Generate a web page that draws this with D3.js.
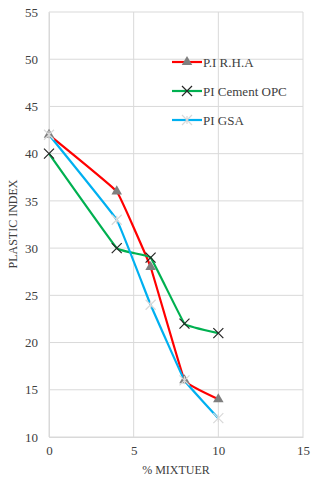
<!DOCTYPE html>
<html>
<head>
<meta charset="utf-8">
<script src="https://cdn.jsdelivr.net/npm/d3@7"></script>
<style>
body { margin: 0; background: #fff; }
text { font-family: "Liberation Serif", "Times New Roman", serif; fill: #404040; }
</style>
</head>
<body>
<script>
var mixture = [0, 4, 6, 8, 10];
var rha = [42, 36, 28, 16, 14];
var opc = [40, 30, 29, 22, 21];
var gsa = [42, 33, 24, 16, 12];
var xTicks = [0, 5, 10, 15];
var yTicks = [10, 15, 20, 25, 30, 35, 40, 45, 50, 55];

var series = [
  { name: "P.I R.H.A", values: rha, color: "#ff0000", marker: "tri" },
  { name: "PI Cement OPC", values: opc, color: "#00b050", marker: "x" },
  { name: "PI GSA", values: gsa, color: "#00b0f0", marker: "star" }
];

var width = 320, height = 480;
var svg = d3.select("body").append("svg").attr("width", width).attr("height", height);

var x = d3.scaleLinear().domain([0, 15]).range([49, 303]);
var y = d3.scaleLinear().domain([10, 55]).range([437, 12]);

// grid
svg.append("g").selectAll("line").data(yTicks).enter().append("line")
  .attr("x1", x(0)).attr("x2", x(15))
  .attr("y1", d => y(d)).attr("y2", d => y(d))
  .attr("stroke", "#d9d9d9").attr("stroke-width", 1);
svg.append("g").selectAll("line").data(xTicks).enter().append("line")
  .attr("x1", d => x(d)).attr("x2", d => x(d))
  .attr("y1", y(10)).attr("y2", y(55))
  .attr("stroke", "#d9d9d9").attr("stroke-width", 1);

// axes
var yAxis = d3.axisLeft(y).tickValues(yTicks).tickSize(0).tickPadding(11);
var xAxis = d3.axisBottom(x).tickValues(xTicks).tickSize(0).tickPadding(9);
var gy = svg.append("g").attr("transform", "translate(" + x(0) + ",0)").call(yAxis);
var gx = svg.append("g").attr("transform", "translate(0," + y(10) + ")").call(xAxis);
[gy, gx].forEach(function (g) {
  g.select(".domain").attr("stroke", "#d9d9d9");
  g.selectAll("text").style("font-size", "13px").style("font-family", "'Liberation Serif', serif").attr("fill", "#404040");
});

svg.append("text").attr("x", 176).attr("y", 474).attr("text-anchor", "middle")
  .style("font-size", "12px").text("% MIXTUER");
svg.append("text").attr("transform", "translate(17,224) rotate(-90)").attr("text-anchor", "middle")
  .style("font-size", "12px").text("PLASTIC INDEX");

var line = d3.line().curve(d3.curveCardinal.tension(0.8))
  .x((d, i) => x(mixture[i])).y(d => y(d));

function drawMarker(g, type, cx, cy) {
  if (type === "tri") {
    g.append("path").attr("d", d3.symbol(d3.symbolTriangle, 48)())
      .attr("transform", "translate(" + cx + "," + cy + ")").attr("fill", "#7f7f7f");
  } else if (type === "x") {
    g.append("path").attr("d", "M-5,-5L5,5M-5,5L5,-5")
      .attr("transform", "translate(" + cx + "," + cy + ")")
      .attr("stroke", "#262626").attr("stroke-width", 1.2).attr("fill", "none");
  } else {
    g.append("path").attr("d", "M-5,-5L5,5M-5,5L5,-5M0,-4L0,4")
      .attr("transform", "translate(" + cx + "," + cy + ")")
      .attr("stroke", "#d9d9d9").attr("stroke-width", 1.2).attr("fill", "none");
  }
}

series.forEach(function (s) {
  svg.append("path").datum(s.values).attr("d", line)
    .attr("fill", "none").attr("stroke", s.color).attr("stroke-width", 2.2);
});
series.forEach(function (s) {
  var g = svg.append("g");
  s.values.forEach(function (v, i) { drawMarker(g, s.marker, x(mixture[i]), y(v)); });
});

// legend
var legendY = [62, 91, 120];
series.forEach(function (s, i) {
  var g = svg.append("g");
  g.append("line").attr("x1", 172).attr("x2", 202).attr("y1", legendY[i]).attr("y2", legendY[i])
    .attr("stroke", s.color).attr("stroke-width", 2.2);
  drawMarker(g, s.marker, 187, legendY[i]);
  g.append("text").attr("x", 203).attr("y", legendY[i] + 4.5)
    .style("font-size", "13px").attr("fill", "#000").text(s.name);
});
</script>
</body>
</html>
